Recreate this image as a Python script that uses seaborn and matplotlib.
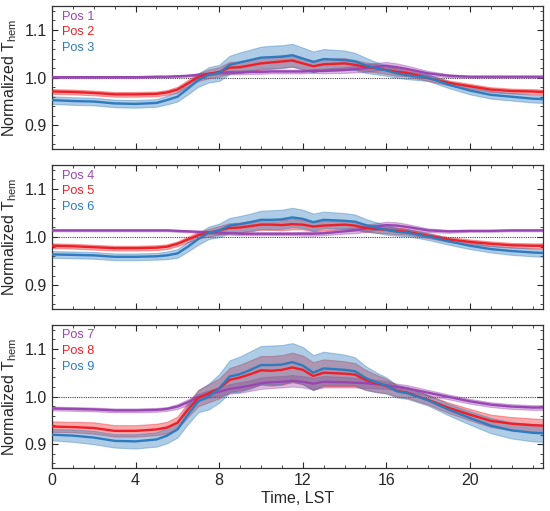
import matplotlib
matplotlib.use("Agg")
import matplotlib.pyplot as plt
import pandas as pd
import seaborn as sns
from matplotlib.ticker import MultipleLocator

# hours (LST)
hours = [0, 1, 2, 3, 4, 5, 5.5, 6, 6.5, 7, 7.5, 8, 8.5, 9, 9.5, 10, 10.5, 11,
         11.5, 12, 12.5, 13, 14, 14.5, 15, 15.5, 16, 16.5, 17, 18, 19, 20, 21,
         22, 23, 23.5]

# panel 1
pos1 = [1.001, 1.001, 1.001, 1.001, 1.001, 1.002, 1.002, 1.003, 1.004, 1.006, 1.008, 1.010,
        1.011, 1.011, 1.012, 1.012, 1.013, 1.013, 1.013, 1.013, 1.014, 1.014, 1.016, 1.018,
        1.020, 1.023, 1.025, 1.022, 1.018, 1.009, 1.004, 1.002, 1.002, 1.002, 1.002, 1.002]
pos1_sd = [0.002, 0.002, 0.002, 0.002, 0.002, 0.002, 0.002, 0.002, 0.002, 0.003, 0.003, 0.003,
           0.004, 0.004, 0.004, 0.004, 0.004, 0.004, 0.004, 0.004, 0.004, 0.005, 0.006, 0.007,
           0.008, 0.008, 0.008, 0.008, 0.007, 0.005, 0.003, 0.002, 0.002, 0.002, 0.002, 0.002]
pos2 = [0.971, 0.970, 0.968, 0.965, 0.965, 0.966, 0.969, 0.975, 0.988, 1.001, 1.008, 1.012,
        1.021, 1.022, 1.026, 1.030, 1.032, 1.034, 1.036, 1.030, 1.024, 1.028, 1.030, 1.027,
        1.023, 1.020, 1.016, 1.012, 1.010, 0.999, 0.989, 0.982, 0.975, 0.972, 0.971, 0.970]
pos2_sd = [0.005, 0.005, 0.005, 0.005, 0.005, 0.005, 0.005, 0.006, 0.007, 0.008, 0.009, 0.010,
           0.012, 0.012, 0.012, 0.013, 0.013, 0.013, 0.013, 0.012, 0.012, 0.012, 0.011, 0.010,
           0.009, 0.009, 0.008, 0.008, 0.007, 0.006, 0.005, 0.005, 0.005, 0.005, 0.005, 0.005]
pos3 = [0.953, 0.951, 0.950, 0.946, 0.945, 0.947, 0.953, 0.960, 0.977, 0.995, 1.006, 1.010,
        1.027, 1.032, 1.037, 1.042, 1.043, 1.044, 1.047, 1.040, 1.033, 1.039, 1.037, 1.034,
        1.026, 1.020, 1.015, 1.009, 1.005, 1.000, 0.985, 0.973, 0.964, 0.960, 0.956, 0.955]
pos3_sd = [0.008, 0.008, 0.008, 0.008, 0.008, 0.008, 0.009, 0.010, 0.012, 0.014, 0.016, 0.017,
           0.019, 0.021, 0.022, 0.023, 0.024, 0.024, 0.024, 0.023, 0.022, 0.021, 0.020, 0.018,
           0.016, 0.013, 0.011, 0.009, 0.008, 0.007, 0.007, 0.008, 0.008, 0.008, 0.008, 0.008]

# panel 2
pos4 = [1.014, 1.014, 1.014, 1.014, 1.014, 1.014, 1.014, 1.013, 1.012, 1.011, 1.010, 1.009,
        1.008, 1.007, 1.007, 1.007, 1.007, 1.007, 1.007, 1.007, 1.007, 1.008, 1.012, 1.014,
        1.018, 1.022, 1.025, 1.024, 1.021, 1.014, 1.012, 1.013, 1.013, 1.014, 1.014, 1.014]
pos4_sd = [0.002, 0.002, 0.002, 0.002, 0.002, 0.002, 0.002, 0.002, 0.002, 0.002, 0.003, 0.003,
           0.003, 0.003, 0.003, 0.003, 0.003, 0.003, 0.003, 0.004, 0.004, 0.004, 0.005, 0.006,
           0.007, 0.007, 0.007, 0.007, 0.006, 0.004, 0.003, 0.002, 0.002, 0.002, 0.002, 0.002]
pos5 = [0.982, 0.981, 0.979, 0.977, 0.977, 0.978, 0.980, 0.986, 0.995, 1.004, 1.009, 1.014,
        1.019, 1.020, 1.023, 1.026, 1.026, 1.025, 1.027, 1.026, 1.022, 1.024, 1.026, 1.024,
        1.019, 1.017, 1.015, 1.013, 1.011, 1.003, 0.995, 0.990, 0.986, 0.983, 0.982, 0.982]
pos5_sd = [0.005, 0.005, 0.005, 0.005, 0.005, 0.005, 0.005, 0.005, 0.006, 0.007, 0.008, 0.009,
           0.010, 0.010, 0.011, 0.011, 0.011, 0.011, 0.011, 0.010, 0.010, 0.010, 0.009, 0.009,
           0.008, 0.008, 0.007, 0.007, 0.006, 0.005, 0.005, 0.005, 0.005, 0.005, 0.005, 0.005]
pos6 = [0.964, 0.963, 0.962, 0.959, 0.959, 0.960, 0.962, 0.966, 0.980, 0.996, 1.009, 1.014,
        1.024, 1.027, 1.031, 1.036, 1.036, 1.037, 1.041, 1.038, 1.031, 1.036, 1.034, 1.032,
        1.025, 1.020, 1.015, 1.011, 1.009, 1.001, 0.991, 0.982, 0.975, 0.971, 0.968, 0.967]
pos6_sd = [0.007, 0.007, 0.007, 0.007, 0.007, 0.007, 0.008, 0.009, 0.010, 0.012, 0.013, 0.014,
           0.016, 0.017, 0.018, 0.019, 0.020, 0.020, 0.020, 0.019, 0.018, 0.017, 0.016, 0.015,
           0.013, 0.011, 0.010, 0.008, 0.007, 0.007, 0.007, 0.007, 0.007, 0.008, 0.008, 0.008]

# panel 3
pos7 = [0.975, 0.974, 0.973, 0.971, 0.971, 0.972, 0.974, 0.979, 0.988, 0.999, 1.005, 1.010,
        1.016, 1.019, 1.023, 1.028, 1.030, 1.031, 1.033, 1.031, 1.027, 1.031, 1.030, 1.029,
        1.028, 1.026, 1.024, 1.020, 1.017, 1.008, 0.999, 0.990, 0.983, 0.979, 0.977, 0.977]
pos7_sd = [0.004, 0.004, 0.004, 0.004, 0.004, 0.004, 0.004, 0.005, 0.006, 0.007, 0.008, 0.009,
           0.010, 0.011, 0.011, 0.012, 0.012, 0.012, 0.012, 0.012, 0.012, 0.012, 0.011, 0.010,
           0.010, 0.009, 0.008, 0.007, 0.007, 0.006, 0.005, 0.005, 0.005, 0.005, 0.005, 0.005]
pos8 = [0.937, 0.936, 0.934, 0.928, 0.928, 0.931, 0.935, 0.945, 0.972, 0.997, 1.007, 1.017,
        1.035, 1.040, 1.047, 1.055, 1.054, 1.056, 1.061, 1.056, 1.043, 1.050, 1.048, 1.046,
        1.035, 1.028, 1.022, 1.012, 1.008, 0.993, 0.976, 0.962, 0.949, 0.943, 0.940, 0.939]
pos8_sd = [0.011, 0.011, 0.012, 0.012, 0.012, 0.012, 0.012, 0.013, 0.015, 0.017, 0.019, 0.021,
           0.025, 0.027, 0.029, 0.030, 0.031, 0.031, 0.031, 0.030, 0.029, 0.028, 0.026, 0.024,
           0.021, 0.018, 0.015, 0.012, 0.011, 0.010, 0.011, 0.012, 0.013, 0.014, 0.014, 0.014]
pos9 = [0.920, 0.918, 0.914, 0.907, 0.906, 0.910, 0.918, 0.931, 0.962, 0.990, 1.000, 1.017,
        1.042, 1.047, 1.056, 1.066, 1.066, 1.067, 1.072, 1.065, 1.050, 1.059, 1.056, 1.053,
        1.039, 1.030, 1.023, 1.011, 1.007, 0.992, 0.972, 0.955, 0.939, 0.929, 0.924, 0.923]
pos9_sd = [0.012, 0.013, 0.014, 0.014, 0.015, 0.015, 0.016, 0.017, 0.020, 0.023, 0.027, 0.030,
           0.034, 0.037, 0.039, 0.040, 0.041, 0.041, 0.040, 0.039, 0.037, 0.035, 0.032, 0.029,
           0.025, 0.021, 0.017, 0.013, 0.012, 0.011, 0.012, 0.014, 0.016, 0.017, 0.018, 0.018]

panels = [
    [("Pos 1", pos1, pos1_sd), ("Pos 2", pos2, pos2_sd), ("Pos 3", pos3, pos3_sd)],
    [("Pos 4", pos4, pos4_sd), ("Pos 5", pos5, pos5_sd), ("Pos 6", pos6, pos6_sd)],
    [("Pos 7", pos7, pos7_sd), ("Pos 8", pos8, pos8_sd), ("Pos 9", pos9, pos9_sd)],
]
colors = ["#9a46b2", "#ee1f26", "#2f7bbf"]

sns.set_style("ticks")
plt.rcParams['font.family'] = ['Liberation Sans', 'DejaVu Sans']
plt.rcParams['mathtext.fontset'] = 'custom'
plt.rcParams['mathtext.rm'] = 'Liberation Sans'

fig = plt.figure(figsize=(5.5, 5.11), dpi=100)
boxes = [(0.0945, 0.708, 0.893, 0.280),
         (0.0945, 0.395, 0.893, 0.282),
         (0.0945, 0.084, 0.893, 0.280)]

for i, (series, box) in enumerate(zip(panels, boxes)):
    ax = fig.add_axes(box)
    ax.axhline(1.0, color="#444444", linestyle=(0, (1, 1)), linewidth=0.8, zorder=1)
    for (name, vals, sd), c in zip(series, colors):
        df = pd.DataFrame({"hour": hours, "value": vals, "sd": sd})
        lo = df["value"] - df["sd"]
        hi = df["value"] + df["sd"]
        ax.fill_between(df["hour"], lo, hi, color=c, alpha=0.38, linewidth=0.8,
                        edgecolor=c, zorder=2)
        sns.lineplot(data=df, x="hour", y="value", color=c, linewidth=1.7,
                     label=name, ax=ax, zorder=3)
    ax.set_xlim(0, 23.5)
    ax.set_ylim(0.85, 1.15)
    ax.xaxis.set_major_locator(MultipleLocator(4))
    ax.xaxis.set_minor_locator(MultipleLocator(1))
    ax.yaxis.set_major_locator(MultipleLocator(0.1))
    ax.yaxis.set_minor_locator(MultipleLocator(0.02))
    ax.tick_params(which="both", direction="in", top=True, right=True, labelsize=11.5)
    ax.tick_params(which="major", length=4.5, width=0.8)
    ax.tick_params(which="minor", length=2.5, width=0.6)
    for s in ax.spines.values():
        s.set_linewidth(0.9)
        s.set_color("#333333")
    ax.set_ylabel("Normalized T$_\\mathregular{hem}$", fontsize=11.5, labelpad=4)
    if i < 2:
        ax.set_xlabel("")
        ax.tick_params(labelbottom=False)
    else:
        ax.set_xlabel("Time, LST", fontsize=11.5, labelpad=2)
    leg = ax.legend(loc="upper left", bbox_to_anchor=(0.012, 1.0), frameon=False,
                    handlelength=0, handletextpad=0, labelcolor="linecolor",
                    fontsize=9.2, borderaxespad=0.2, borderpad=0.15,
                    labelspacing=0.3)
    for h in leg.legend_handles:
        h.set_visible(False)

fig.savefig("out.png", dpi=100)
